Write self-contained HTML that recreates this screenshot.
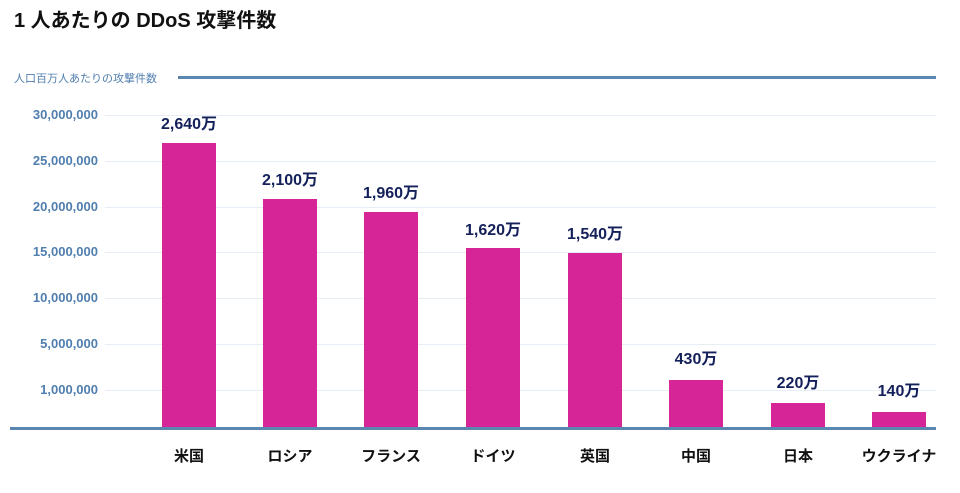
<!DOCTYPE html>
<html><head><meta charset="utf-8"><style>
body{margin:0;width:960px;height:493px;background:#fff;overflow:hidden;font-family:"Liberation Sans","Noto Sans CJK JP",sans-serif}
.a{position:absolute}
.g{position:absolute;left:105px;width:831px;height:1px;background:#e8eef5}
.y{position:absolute;left:0;width:98px;text-align:right;font-size:13px;font-weight:bold;color:#4f7eaf;line-height:14px}
.b{position:absolute;width:54px;background:#d62596}
.v{position:absolute;width:110px;text-align:center;font-size:16px;font-weight:bold;color:#14205a}
.c{position:absolute;top:445px;width:110px;text-align:center;font-size:15px;font-weight:bold;color:#111}
</style></head><body>
<div class="a" style="left:14px;top:4px;font-size:20px;font-weight:bold;color:#111">1 人あたりの DDoS 攻撃件数</div>
<div class="a" style="left:14px;top:70px;font-size:11px;color:#4f7eaf">人口百万人あたりの攻撃件数</div>
<div class="a" style="left:178px;top:76px;width:758px;height:3px;background:#5a86b0"></div>
<div class="g" style="top:115px"></div><div class="y" style="top:108px">30,000,000</div>
<div class="g" style="top:161px"></div><div class="y" style="top:154px">25,000,000</div>
<div class="g" style="top:207px"></div><div class="y" style="top:200px">20,000,000</div>
<div class="g" style="top:252px"></div><div class="y" style="top:245px">15,000,000</div>
<div class="g" style="top:298px"></div><div class="y" style="top:291px">10,000,000</div>
<div class="g" style="top:344px"></div><div class="y" style="top:337px">5,000,000</div>
<div class="g" style="top:390px"></div><div class="y" style="top:383px">1,000,000</div>
<div class="b" style="left:162px;top:143px;height:284px"></div>
<div class="b" style="left:263px;top:199px;height:228px"></div>
<div class="b" style="left:364px;top:212px;height:215px"></div>
<div class="b" style="left:466px;top:248px;height:179px"></div>
<div class="b" style="left:568px;top:253px;height:174px"></div>
<div class="b" style="left:669px;top:380px;height:47px"></div>
<div class="b" style="left:771px;top:403px;height:24px"></div>
<div class="b" style="left:872px;top:412px;height:15px"></div>
<div class="a" style="left:10px;top:427px;width:926px;height:3px;background:#5a86b0"></div>
<div class="v" style="left:134px;top:110px">2,640万</div>
<div class="v" style="left:235px;top:166px">2,100万</div>
<div class="v" style="left:336px;top:179px">1,960万</div>
<div class="v" style="left:438px;top:216px">1,620万</div>
<div class="v" style="left:540px;top:220px">1,540万</div>
<div class="v" style="left:641px;top:345px">430万</div>
<div class="v" style="left:743px;top:369px">220万</div>
<div class="v" style="left:844px;top:377px">140万</div>
<div class="c" style="left:134px">米国</div>
<div class="c" style="left:235px">ロシア</div>
<div class="c" style="left:336px">フランス</div>
<div class="c" style="left:438px">ドイツ</div>
<div class="c" style="left:540px">英国</div>
<div class="c" style="left:641px">中国</div>
<div class="c" style="left:743px">日本</div>
<div class="c" style="left:844px">ウクライナ</div>
</body></html>
